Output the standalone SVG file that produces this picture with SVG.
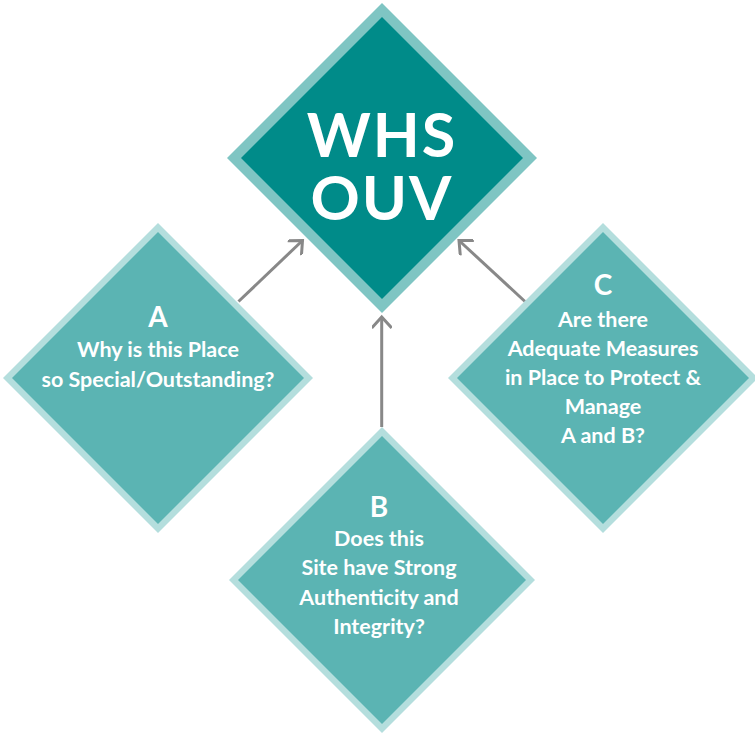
<svg xmlns="http://www.w3.org/2000/svg" width="755" height="733" viewBox="0 0 755 733">
<defs>
<style>
.outer-main{fill:#7fc5c3}
.inner-main{fill:#008b89}
.outer{fill:#b4dedd}
.inner{fill:#5bb4b3}
.t{font-family:Lato,"Open Sans","Liberation Sans",sans-serif;font-weight:bold;fill:#ffffff;text-anchor:middle}
.big{font-size:61px;letter-spacing:2px}
.lbl{font-size:28px}
.q{font-size:21.5px}
.conn{stroke:#888888;stroke-width:3;fill:none}
</style>
<marker id="arr" viewBox="0 0 20 20" refX="15" refY="10" markerWidth="20" markerHeight="20" markerUnits="userSpaceOnUse" orient="auto">
<path d="M4,0 L15,10 L4,20" fill="none" stroke="#888888" stroke-width="3"/>
</marker>
</defs>
<rect width="755" height="733" fill="#ffffff"/>
<g id="connectors">
<line class="conn" x1="238.5" y1="301.5" x2="302.5" y2="240.5" marker-end="url(#arr)"/>
<line class="conn" x1="381.7" y1="427" x2="381.7" y2="317" marker-end="url(#arr)"/>
<line class="conn" x1="525" y1="301.5" x2="459" y2="240.5" marker-end="url(#arr)"/>
</g>
<g id="node-whs">
<polygon class="outer-main" points="382,3 537,158 382,313 227,158"/>
<polygon class="inner-main" points="382,17 523,158 382,299 241,158"/>
<text class="t big" x="382" y="157"><tspan x="382">WHS</tspan><tspan x="382" dy="63">OUV</tspan></text>
</g>
<g id="node-a">
<polygon class="outer" points="158,223 313,378 158,533 3,378"/>
<polygon class="inner" points="158,232 304,378 158,524 12,378"/>
<text class="t q" x="158" y="327"><tspan x="158" class="lbl">A</tspan><tspan x="158" dy="30">Why is this Place</tspan><tspan x="158" dy="29.5">so Special/Outstanding?</tspan></text>
</g>
<g id="node-c">
<polygon class="outer" points="603,223 758,378 603,533 448,378"/>
<polygon class="inner" points="603,232 749,378 603,524 457,378"/>
<text class="t q" x="603" y="295"><tspan x="603" class="lbl">C</tspan><tspan x="603" dy="31.5">Are there</tspan><tspan x="603" dy="29.5">Adequate Measures</tspan><tspan x="603" dy="29">in Place to Protect &amp;</tspan><tspan x="603" dy="28.5">Manage</tspan><tspan x="603" dy="29">A and B?</tspan></text>
</g>
<g id="node-b">
<polygon class="outer" points="382,427 535,580 382,733 229,580"/>
<polygon class="inner" points="382,436 526,580 382,724 238,580"/>
<text class="t q" x="379" y="516.5"><tspan x="379" class="lbl">B</tspan><tspan x="379" dy="29.5">Does this</tspan><tspan x="379" dy="29">Site have Strong</tspan><tspan x="379" dy="29.5">Authenticity and</tspan><tspan x="379" dy="29">Integrity?</tspan></text>
</g>
</svg>
